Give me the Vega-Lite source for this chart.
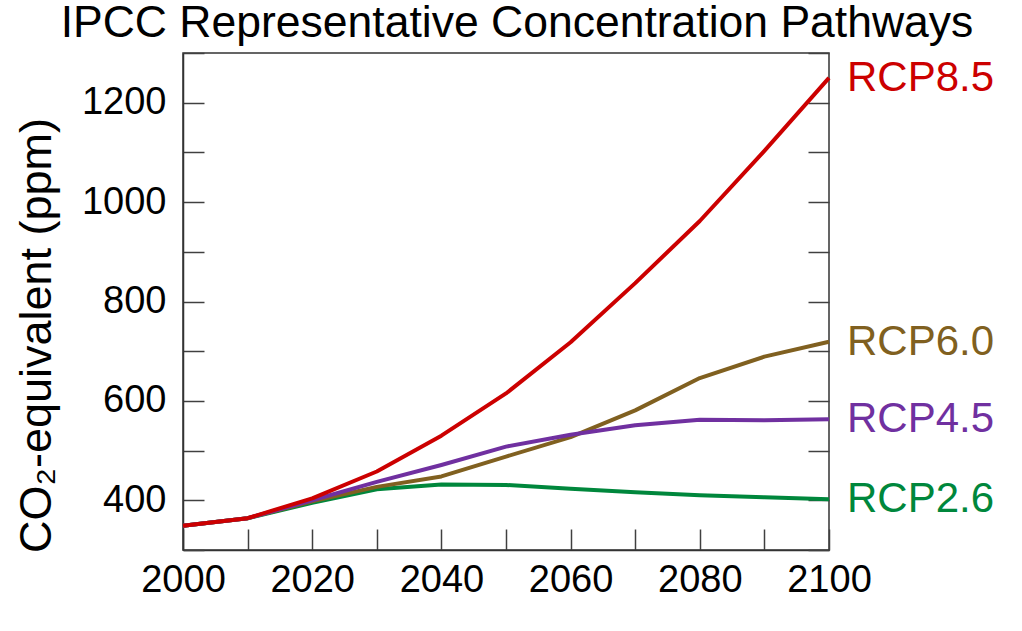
{
  "$schema": "https://vega.github.io/schema/vega-lite/v6.json",
  "autosize": "none",
  "width": 646,
  "height": 497,
  "padding": {"left": 183, "top": 53, "right": 193, "bottom": 81},
  "background": "white",
  "title": {
    "text": "IPCC Representative Concentration Pathways",
    "font": "Liberation Sans",
    "fontSize": 44.5,
    "fontWeight": "normal",
    "color": "black",
    "anchor": "middle",
    "dx": 11,
    "dy": 18,
    "offset": 6
  },
  "config": {
    "view": {"stroke": "#333333", "strokeWidth": 1.5},
    "font": "Liberation Sans",
    "axis": {
      "labelFont": "Liberation Sans",
      "labelFontSize": 38,
      "labelColor": "black",
      "titleFont": "Liberation Sans",
      "grid": false,
      "domainColor": "#333333",
      "domainWidth": 1.5,
      "tickColor": "#404040",
      "tickWidth": 1.5,
      "tickSize": -21
    }
  },
  "data": {
    "values": [
      {"year": 2000, "scenario": "RCP2.6", "ppm": 349},
      {"year": 2010, "scenario": "RCP2.6", "ppm": 364},
      {"year": 2020, "scenario": "RCP2.6", "ppm": 395},
      {"year": 2030, "scenario": "RCP2.6", "ppm": 422},
      {"year": 2040, "scenario": "RCP2.6", "ppm": 432},
      {"year": 2050, "scenario": "RCP2.6", "ppm": 431},
      {"year": 2060, "scenario": "RCP2.6", "ppm": 423},
      {"year": 2070, "scenario": "RCP2.6", "ppm": 416},
      {"year": 2080, "scenario": "RCP2.6", "ppm": 410},
      {"year": 2090, "scenario": "RCP2.6", "ppm": 406},
      {"year": 2100, "scenario": "RCP2.6", "ppm": 402},
      {"year": 2000, "scenario": "RCP6.0", "ppm": 349},
      {"year": 2010, "scenario": "RCP6.0", "ppm": 364},
      {"year": 2020, "scenario": "RCP6.0", "ppm": 398},
      {"year": 2030, "scenario": "RCP6.0", "ppm": 427},
      {"year": 2040, "scenario": "RCP6.0", "ppm": 448},
      {"year": 2050, "scenario": "RCP6.0", "ppm": 488},
      {"year": 2060, "scenario": "RCP6.0", "ppm": 527},
      {"year": 2070, "scenario": "RCP6.0", "ppm": 581},
      {"year": 2080, "scenario": "RCP6.0", "ppm": 646},
      {"year": 2090, "scenario": "RCP6.0", "ppm": 689},
      {"year": 2100, "scenario": "RCP6.0", "ppm": 719},
      {"year": 2000, "scenario": "RCP4.5", "ppm": 349},
      {"year": 2010, "scenario": "RCP4.5", "ppm": 364},
      {"year": 2020, "scenario": "RCP4.5", "ppm": 400},
      {"year": 2030, "scenario": "RCP4.5", "ppm": 437},
      {"year": 2040, "scenario": "RCP4.5", "ppm": 471},
      {"year": 2050, "scenario": "RCP4.5", "ppm": 508},
      {"year": 2060, "scenario": "RCP4.5", "ppm": 532},
      {"year": 2070, "scenario": "RCP4.5", "ppm": 551},
      {"year": 2080, "scenario": "RCP4.5", "ppm": 562},
      {"year": 2090, "scenario": "RCP4.5", "ppm": 561},
      {"year": 2100, "scenario": "RCP4.5", "ppm": 563},
      {"year": 2000, "scenario": "RCP8.5", "ppm": 349},
      {"year": 2010, "scenario": "RCP8.5", "ppm": 364},
      {"year": 2020, "scenario": "RCP8.5", "ppm": 404},
      {"year": 2030, "scenario": "RCP8.5", "ppm": 458},
      {"year": 2040, "scenario": "RCP8.5", "ppm": 530},
      {"year": 2050, "scenario": "RCP8.5", "ppm": 615},
      {"year": 2060, "scenario": "RCP8.5", "ppm": 718},
      {"year": 2070, "scenario": "RCP8.5", "ppm": 837},
      {"year": 2080, "scenario": "RCP8.5", "ppm": 962},
      {"year": 2090, "scenario": "RCP8.5", "ppm": 1103},
      {"year": 2100, "scenario": "RCP8.5", "ppm": 1250}
    ]
  },
  "encoding": {
    "x": {
      "field": "year",
      "type": "quantitative",
      "scale": {"domain": [2000, 2100], "nice": false, "zero": false},
      "axis": {
        "title": null,
        "values": [2000, 2010, 2020, 2030, 2040, 2050, 2060, 2070, 2080, 2090, 2100],
        "labelExpr": "datum.value % 20 == 0 ? datum.value : ''",
        "format": "d",
        "labelPadding": 32,
        "labelFlush": false,
        "labelOverlap": false
      }
    },
    "color": {
      "field": "scenario",
      "type": "nominal",
      "scale": {
        "domain": ["RCP8.5", "RCP6.0", "RCP4.5", "RCP2.6"],
        "range": ["#CC0000", "#806020", "#7030A0", "#00873C"]
      },
      "legend": null
    }
  },
  "layer": [
    {
      "mark": {"type": "line", "strokeWidth": 4, "strokeJoin": "round"},
      "encoding": {
        "y": {
          "field": "ppm",
          "type": "quantitative",
          "scale": {"domain": [300, 1300], "nice": false, "zero": false},
          "axis": {
            "title": "CO₂-equivalent (ppm)",
            "titleFontSize": 45,
            "titleFontWeight": "normal",
            "titleColor": "black",
            "titleAngle": -90,
            "titleX": -124,
            "titleY": 282,
            "titleAlign": "center",
            "titleBaseline": "bottom",
            "values": [300, 400, 500, 600, 700, 800, 900, 1000, 1100, 1200, 1300],
            "labelExpr": "(datum.value % 200 == 0 && datum.value >= 400 && datum.value <= 1200) ? datum.value : ''",
            "format": "d",
            "labelPadding": 38,
            "labelFlush": false,
            "labelOverlap": false
          }
        }
      }
    },
    {
      "transform": [{"filter": "datum.year == 2100"}],
      "mark": {"type": "text", "align": "left", "baseline": "middle", "dx": 18, "fontSize": 42, "font": "Liberation Sans"},
      "encoding": {
        "y": {"field": "ppm", "type": "quantitative", "axis": null},
        "text": {"field": "scenario"}
      }
    },
    {
      "mark": {"type": "rule", "opacity": 0},
      "encoding": {
        "y": {
          "field": "ppm",
          "type": "quantitative",
          "axis": {
            "orient": "right",
            "title": null,
            "labels": false,
            "domain": false,
            "values": [300, 400, 500, 600, 700, 800, 900, 1000, 1100, 1200, 1300]
          }
        }
      }
    }
  ],
  "resolve": {"scale": {"y": "shared"}, "axis": {"y": "independent"}}
}
